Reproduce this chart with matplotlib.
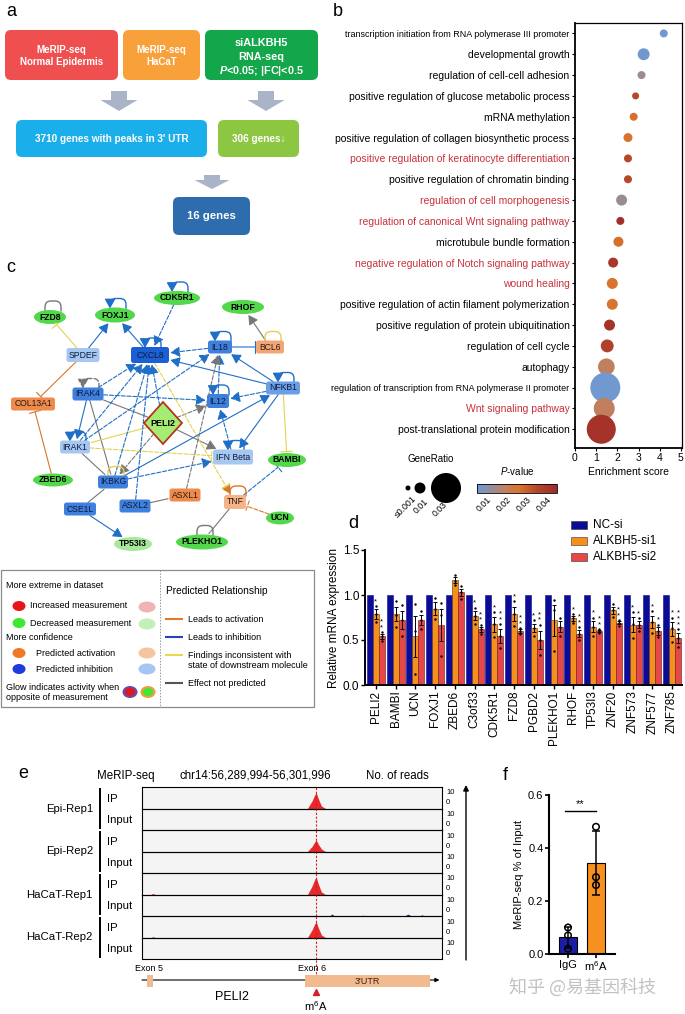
import numpy as np
import matplotlib
matplotlib.use('Agg')
import matplotlib.pyplot as plt
from matplotlib.patches import FancyBboxPatch, Rectangle, Ellipse, Polygon, FancyArrowPatch, Circle, ArrowStyle
from matplotlib.colors import LinearSegmentedColormap, Normalize
import matplotlib.cm as cm

plt.rcParams['font.family'] = ['Liberation Sans', 'DejaVu Sans', 'Noto Sans CJK SC']
plt.rcParams['mathtext.fontset'] = 'custom'
plt.rcParams['mathtext.rm'] = 'Liberation Sans'
plt.rcParams['mathtext.it'] = 'Liberation Sans:italic'
plt.rcParams['mathtext.bf'] = 'Liberation Sans:bold'
plt.rcParams['mathtext.bfit'] = 'Liberation Sans:italic:bold'

# ---------------- data ----------------
# panel b: GO enrichment
go_terms = ['transcription initiation from RNA polymerase III promoter',
            'developmental growth',
            'regulation of cell-cell adhesion',
            'positive regulation of glucose metabolic process',
            'mRNA methylation',
            'positive regulation of collagen biosynthetic process',
            'positive regulation of keratinocyte differentiation',
            'positive regulation of chromatin binding',
            'regulation of cell morphogenesis',
            'regulation of canonical Wnt signaling pathway',
            'microtubule bundle formation',
            'negative regulation of Notch signaling pathway',
            'wound healing',
            'positive regulation of actin filament polymerization',
            'positive regulation of protein ubiquitination',
            'regulation of cell cycle',
            'autophagy',
            'regulation of transcription from RNA polymerase II promoter',
            'Wnt signaling pathway',
            'post-translational protein modification']
go_score = [4.19, 3.24, 3.14, 2.86, 2.77, 2.5, 2.5, 2.5, 2.2, 2.14,
            2.05, 1.8, 1.76, 1.76, 1.63, 1.52, 1.48, 1.43, 1.38, 1.24]
go_ratio = [0.0055, 0.011, 0.0055, 0.004, 0.0055, 0.007, 0.0055, 0.0055, 0.010, 0.0055,
            0.0085, 0.0085, 0.010, 0.010, 0.010, 0.012, 0.016, 0.031, 0.0205, 0.029]
go_pval = [0.006, 0.006, 0.014, 0.035, 0.027, 0.026, 0.035, 0.035, 0.013, 0.043,
           0.027, 0.040, 0.026, 0.026, 0.042, 0.037, 0.019, 0.006, 0.019, 0.042]
go_highlight = [6, 8, 9, 11, 12, 18]
ratio_legend = [0.001, 0.01, 0.03]
ratio_labels = ['\u22640.001', '0.01', '0.03']

# panel d: qPCR
genes_d = ['PELI2', 'BAMBI', 'UCN', 'FOXJ1', 'ZBED6', 'C3of33', 'CDK5R1', 'FZD8',
           'PGBD2', 'PLEKHO1', 'RHOF', 'TP53I3', 'ZNF20', 'ZNF573', 'ZNF577', 'ZNF785']
nc_si = [1.0] * 16
si1_reps = [[0.70, 0.79, 0.88], [0.65, 0.78, 0.93], [0.12, 0.60, 0.90], [0.73, 0.85, 0.97],
            [1.11, 1.16, 1.22], [0.68, 0.77, 0.86], [0.53, 0.68, 0.81], [0.66, 0.79, 0.93],
            [0.55, 0.63, 0.72], [0.38, 0.83, 0.95], [0.69, 0.74, 0.79], [0.55, 0.65, 0.75],
            [0.76, 0.83, 0.90], [0.52, 0.68, 0.81], [0.58, 0.70, 0.82], [0.48, 0.63, 0.75]]
si2_reps = [[0.49, 0.54, 0.59], [0.55, 0.72, 0.89], [0.62, 0.72, 0.82], [0.32, 0.78, 0.91],
            [0.96, 1.03, 1.10], [0.57, 0.62, 0.67], [0.41, 0.54, 0.68], [0.57, 0.60, 0.63],
            [0.33, 0.50, 0.67], [0.55, 0.65, 0.75], [0.50, 0.57, 0.64], [0.58, 0.60, 0.62],
            [0.66, 0.69, 0.72], [0.60, 0.67, 0.74], [0.53, 0.60, 0.67], [0.42, 0.52, 0.62]]
si1_sig = ['*', '', '', '', '', '*', '*', '*', '*', '', '*', '*', '', '*', '*', '*']
si2_sig = ['**', '', '', '', '', '**', '**', '**', '**', '', '**', '**', '**', '*', '*', '***']

# panel e: MeRIP-seq coverage (kb from chr14:56,289,994)
region_kb = 12.002
m6a_kb = 6.96
cov_kb = [0, 0.35, 0.44, 0.53, 6.62, 6.80, 6.92, 6.97, 7.05, 7.18, 7.34, 7.5, 7.6, 7.7,
          8.75, 8.84, 8.93, 10.5, 10.64, 10.78, 11.1, 11.2, 11.3, 12.0]
reps_e = ['Epi-Rep1', 'Epi-Rep2', 'HaCaT-Rep1', 'HaCaT-Rep2']
ip_cov = {
    'Epi-Rep1':   [0, 0, 0, 0, 0, 4.5, 8.5, 9.5, 6.0, 1.5, 0, 0, 0, 0, 0, 0, 0, 0, 0, 0, 0, 0, 0, 0],
    'Epi-Rep2':   [0, 0, 0, 0, 0, 3.0, 6.0, 7.0, 4.5, 1.5, 0, 0, 0, 0, 0, 0, 0, 0, 0, 0, 0, 0, 0, 0],
    'HaCaT-Rep1': [0, 0, 0.6, 0, 0, 5.0, 9.5, 10.5, 6.5, 1.5, 0, 0, 0, 0, 0, 0, 0, 0, 0, 0, 0, 0, 0, 0],
    'HaCaT-Rep2': [0, 0, 0.5, 0, 0, 4.5, 8.5, 9.5, 6.0, 1.5, 0, 0, 0, 0, 0, 0, 0, 0, 0, 0, 0, 0, 0, 0],
}
input_cov = {
    'Epi-Rep1':   [0] * 24,
    'Epi-Rep2':   [0] * 24,
    'HaCaT-Rep1': [0, 0, 0, 0, 0, 0, 0, 0, 0, 0, 0, 0, 1.2, 0, 0, 0.5, 0, 0, 1.1, 0, 0, 0.7, 0, 0],
    'HaCaT-Rep2': [0, 0, 0, 0, 0, 0, 0, 0, 0.4, 0, 0, 0, 0, 0, 0, 0, 0, 0, 0, 0, 0, 0, 0, 0],
}
exon5_kb = (0.20, 0.44)
exon6_kb = (6.52, 11.52)

# panel f: MeRIP-qPCR
f_groups = ['IgG', 'm$^6$A']
f_reps = [[0.10, 0.07, 0.02], [0.48, 0.29, 0.26]]

# ---------------- figure ----------------
W, H = 685, 1014
fig = plt.figure(figsize=(W / 100, H / 100), dpi=100)
bg = fig.add_axes([0, 0, 1, 1])
bg.set_xlim(0, W)
bg.set_ylim(H, 0)
bg.axis('off')


def px_axes(l, t, r, b):
    ax = fig.add_axes([l / W, 1 - b / H, (r - l) / W, (b - t) / H])
    ax.patch.set_visible(False)
    return ax


def panel_label(x, y, s):
    bg.text(x, y, s, fontsize=13, ha='left', va='center')


# ---------------- panel a ----------------
panel_label(6, 12, 'a')


def rbox(x0, y0, x1, y1, fc, r=6):
    bg.add_patch(FancyBboxPatch((x0, y0), x1 - x0, y1 - y0,
                                boxstyle="round,pad=0,rounding_size=%g" % r, fc=fc, ec='none'))


def down_arrow(cx, top, bot, shaft=16, head=37, hl=11):
    pts = [(cx - shaft / 2, top), (cx + shaft / 2, top), (cx + shaft / 2, bot - hl),
           (cx + head / 2, bot - hl), (cx, bot), (cx - head / 2, bot - hl), (cx - shaft / 2, bot - hl)]
    bg.add_patch(Polygon(pts, closed=True, fc='#a9b4c8', ec='none'))


wtxt = dict(color='white', fontweight='bold', ha='center', va='center')
rbox(5, 30, 118, 80, '#f04f50')
bg.text(61.5, 56, 'MeRIP-seq\nNormal Epidermis', fontsize=7, linespacing=1.3, **wtxt)
rbox(123, 30, 200, 80, '#f8a03a')
bg.text(161.5, 56, 'MeRIP-seq\nHaCaT', fontsize=7, linespacing=1.3, **wtxt)
rbox(205, 30, 318, 80, '#13a64a')
bg.text(261.5, 43, 'siALKBH5', fontsize=7.8, **wtxt)
bg.text(261.5, 57, 'RNA-seq', fontsize=7.8, **wtxt)
bg.text(261.5, 71, r'$\mathbfit{P}$<0.05; |FC|<0.5', fontsize=7.8, **wtxt)
down_arrow(119, 91, 111)
down_arrow(266, 91, 111)
rbox(16, 120, 207, 157, '#1aaeea')
bg.text(111.5, 139, "3710 genes with peaks in 3' UTR", fontsize=7.2, **wtxt)
rbox(218, 120, 299, 157, '#8dc641')
bg.text(258.5, 139, '306 genes\u2193', fontsize=7.2, **wtxt)
down_arrow(212, 175, 189, head=35, hl=9)
rbox(173, 197, 250, 235, '#2e6dad')
bg.text(211.5, 216, '16 genes', fontsize=8.2, **wtxt)

# ---------------- panel b ----------------
panel_label(333, 12, 'b')
pcmap = LinearSegmentedColormap.from_list(
    'pv', [(0, '#6b9bd8'), (0.2, '#9a8c93'), (0.35, '#c08060'), (0.52, '#d8752f'),
           (0.75, '#b5472a'), (1, '#9e2a2a')])
pnorm = Normalize(0.005, 0.045)


def diam(r):
    return np.interp(r, [0.001, 0.01, 0.03], [5, 11, 30])


axb = px_axes(575, 23, 682, 448)
yy = np.arange(len(go_terms))
axb.scatter(go_score, yy, s=(diam(np.array(go_ratio)) * 0.72) ** 2, c=go_pval,
            cmap=pcmap, norm=pnorm, edgecolors='none', zorder=3)
axb.set_xlim(0, 5.05)
axb.set_ylim(19.9, -0.5)
axb.set_yticks(yy)
axb.set_yticklabels(go_terms, fontsize=7.5)
for i, t in enumerate(axb.get_yticklabels()):
    if i in go_highlight:
        t.set_color('#c8323c')
    if i in (0, 17):
        t.set_fontsize(6.5)
axb.set_xticks(range(6))
axb.tick_params(axis='x', labelsize=7.5, length=2.5, width=0.8, pad=1)
axb.tick_params(axis='y', length=2, width=0.8, pad=2)
axb.set_xlabel('Enrichment score', fontsize=7.5, labelpad=3)
for s in ['left', 'bottom']:
    axb.spines[s].set_linewidth(1.3)
for s in ['top', 'right']:
    axb.spines[s].set_linewidth(0.9)

bg.text(431, 459, 'GeneRatio', fontsize=7, ha='center', va='center')
for r, x in zip(ratio_legend, [408, 420, 446]):
    bg.add_patch(Circle((x, 488), diam(r) / 2, fc='black', ec='none'))
bg.text(412, 494, ratio_labels[0], fontsize=6.3, rotation=45, ha='right', va='top', rotation_mode='anchor')
bg.text(424, 497, ratio_labels[1], fontsize=6.3, rotation=45, ha='right', va='top', rotation_mode='anchor')
bg.text(443, 500, ratio_labels[2], fontsize=6.3, rotation=45, ha='right', va='top', rotation_mode='anchor')
bg.text(517, 471, r'$\it{P}$-value', fontsize=7, ha='center', va='center')
axc = px_axes(477, 484, 557, 493)
cb = fig.colorbar(cm.ScalarMappable(norm=pnorm, cmap=pcmap), cax=axc, orientation='horizontal')
cb.set_ticks([0.01, 0.02, 0.03, 0.04])
cb.ax.tick_params(labelsize=6.3, length=0, pad=1.5)
plt.setp(cb.ax.get_xticklabels(), rotation=45, ha='right', rotation_mode='anchor')
cb.outline.set_linewidth(0.6)

# ---------------- panel c (network) ----------------
panel_label(6, 268, 'c')
GREEN, LGREEN = '#52d84a', '#a6e89c'
DBLUE, MBLUE, NBLUE, LBLUE = '#1c5fd4', '#3f80dc', '#6a9fe6', '#a6c7f0'
ORANGE, LORANGE, TNFC = '#ee8a4c', '#f2a676', '#f4b487'
nodes = {
    'FZD8': (50, 317, 'ell', 32, 14, GREEN),
    'FOXJ1': (115, 315, 'ell', 40, 15, GREEN),
    'CDK5R1': (177, 298, 'ell', 46, 14, GREEN),
    'RHOF': (243, 307, 'ell', 42, 14, GREEN),
    'SPDEF': (83, 355, 'box', 33, 14, LBLUE),
    'CXCL8': (150, 355, 'box', 38, 16, DBLUE),
    'IL18': (220, 347, 'box', 24, 13, MBLUE),
    'BCL6': (270, 347, 'box', 28, 13, LORANGE),
    'IRAK4': (88, 394, 'box', 31, 13, MBLUE),
    'COL13A1': (33, 404, 'box', 44, 13, ORANGE),
    'IL12': (218, 401, 'box', 22, 14, MBLUE),
    'NFKB1': (283, 388, 'box', 34, 13, NBLUE),
    'PELI2': (163, 423, 'dia', 38, 42, '#a6ec74'),
    'IRAK1': (75, 447, 'box', 30, 13, LBLUE),
    'IFN Beta': (233, 457, 'box', 40, 15, LBLUE),
    'BAMBI': (287, 460, 'ell', 38, 14, GREEN),
    'ZBED6': (53, 480, 'ell', 40, 13, GREEN),
    'IKBKG': (113, 482, 'box', 30, 13, MBLUE),
    'ASXL1': (185, 495, 'box', 31, 13, ORANGE),
    'TNF': (235, 502, 'box', 22, 14, TNFC),
    'ASXL2': (135, 506, 'box', 31, 13, MBLUE),
    'CSE1L': (80, 509, 'box', 32, 13, MBLUE),
    'UCN': (280, 518, 'ell', 28, 13, GREEN),
    'TP53I3': (133, 544, 'ell', 38, 14, LGREEN),
    'PLEKHO1': (202, 542, 'ell', 52, 15, GREEN),
}
ECOL = {'blue': '#1f6fc8', 'gray': '#777777', 'yellow': '#e3d250', 'orange': '#d9772b'}
edges = [
    ('SPDEF', 'FOXJ1', 'blue', '-', 'act'), ('SPDEF', 'FZD8', 'yellow', '-', 'inh'),
    ('SPDEF', 'COL13A1', 'orange', '-', 'inh'), ('ZBED6', 'COL13A1', 'orange', '-', 'inh'),
    ('CXCL8', 'FOXJ1', 'blue', '-', 'act'), ('CDK5R1', 'CXCL8', 'blue', '--', 'act'),
    ('IL18', 'CXCL8', 'blue', '--', 'act'), ('IL18', 'BCL6', 'blue', '-', 'inh'),
    ('BCL6', 'RHOF', 'gray', '-', 'act'), ('NFKB1', 'CXCL8', 'blue', '-', 'act'),
    ('NFKB1', 'IL18', 'blue', '-', 'act'), ('NFKB1', 'IL12', 'blue', '--', 'act'),
    ('NFKB1', 'IFN Beta', 'blue', '-', 'act'), ('NFKB1', 'BAMBI', 'yellow', '-', 'inh'),
    ('IL12', 'IL18', 'blue', '--', 'act'), ('IFN Beta', 'IL12', 'blue', '--', 'act'),
    ('IRAK4', 'IL12', 'blue', '--', 'act'), ('IRAK4', 'CXCL8', 'blue', '--', 'act'),
    ('IRAK4', 'IRAK1', 'blue', '-', 'act'), ('IRAK4', 'IKBKG', 'gray', '-', 'none'),
    ('IRAK4', 'PELI2', 'gray', '-', 'none'), ('IRAK1', 'CXCL8', 'blue', '--', 'act'),
    ('IRAK1', 'IL18', 'blue', '--', 'act'), ('IRAK1', 'IKBKG', 'gray', '-', 'none'),
    ('IRAK1', 'IFN Beta', 'yellow', '--', 'inh'), ('PELI2', 'IRAK1', 'yellow', '-', 'none'),
    ('PELI2', 'IL12', 'gray', '--', 'act'), ('PELI2', 'IFN Beta', 'gray', '-', 'act'),
    ('PELI2', 'IKBKG', 'gray', '--', 'act'), ('PELI2', 'CXCL8', 'blue', '--', 'act'),
    ('CXCL8', 'TNF', 'yellow', '--', 'act'), ('IKBKG', 'CXCL8', 'blue', '--', 'act'),
    ('IKBKG', 'NFKB1', 'blue', '-', 'act'), ('IKBKG', 'IFN Beta', 'blue', '--', 'act'),
    ('ASXL1', 'IL18', 'gray', '--', 'act'), ('ASXL2', 'CXCL8', 'blue', '--', 'act'),
    ('ASXL2', 'ASXL1', 'gray', '-', 'none'), ('CSE1L', 'IKBKG', 'gray', '-', 'none'),
    ('CSE1L', 'TP53I3', 'blue', '-', 'act'), ('TNF', 'PLEKHO1', 'gray', '-', 'none'),
    ('UCN', 'TNF', 'orange', '--', 'inh'), ('TNF', 'BAMBI', 'blue', '--', 'inh'),
]
loops = [('FZD8', 'gray', '-', False), ('FOXJ1', 'blue', '-', True), ('CDK5R1', 'blue', '-', True),
         ('CXCL8', 'blue', '-', True), ('IL18', 'blue', '-', True), ('IL12', 'blue', '-', True),
         ('NFKB1', 'blue', '-', True), ('IRAK1', 'blue', '-', True), ('IFN Beta', 'blue', '-', True),
         ('BCL6', 'yellow', '-', False), ('IRAK4', 'gray', '--', True), ('IKBKG', 'yellow', '-', False),
         ('TNF', 'orange', '-', False), ('PLEKHO1', 'gray', '-', False)]


def clip(name, tx, ty):
    x, y, shape, w, h, fc = nodes[name]
    dx, dy = tx - x, ty - y
    if shape == 'ell':
        t = 1 / np.sqrt((dx / (w / 2)) ** 2 + (dy / (h / 2)) ** 2)
    elif shape == 'dia':
        t = 1 / (abs(dx) / (w / 2) + abs(dy) / (h / 2))
    else:
        t = min((w / 2) / abs(dx) if dx else 1e9, (h / 2) / abs(dy) if dy else 1e9)
    return x + dx * t, y + dy * t


ACT = ArrowStyle('-|>', head_length=0.8, head_width=0.45)
for a, b, col, ls, kind in edges:
    xa, ya = nodes[a][:2]
    xb, yb = nodes[b][:2]
    pa = clip(a, xb, yb)
    pb = clip(b, xa, ya)
    if kind == 'act':
        st = ACT
    elif kind == 'inh':
        st = ArrowStyle('-[', widthB=0.6, lengthB=0)
    else:
        st = ArrowStyle('-')
    bg.add_patch(FancyArrowPatch(pa, pb, arrowstyle=st, mutation_scale=7, lw=0.8,
                                 color=ECOL[col], ls=ls, shrinkA=0, shrinkB=1, zorder=2))
    if (a, b) == ('CXCL8', 'TNF'):
        bg.add_patch(FancyArrowPatch(pa, pb, arrowstyle=ACT, mutation_scale=7, lw=0,
                                     color=ECOL['orange'], shrinkA=0, shrinkB=1, zorder=2))

for name, col, ls, head in loops:
    x, y, shape, w, h, fc = nodes[name]
    yt = y - h / 2 + 1
    st = ACT if head else ArrowStyle('-')
    bg.add_patch(FancyArrowPatch((x + 11, yt), (x - 5, yt),
                                 connectionstyle='arc,angleA=90,angleB=90,armA=10,armB=10,rad=6',
                                 arrowstyle=st, mutation_scale=7, color=ECOL[col], lw=1.0, ls=ls,
                                 shrinkA=0, shrinkB=0, zorder=2))

for name, (x, y, shape, w, h, fc) in nodes.items():
    if shape == 'ell':
        bg.add_patch(Ellipse((x, y), w, h, fc=fc, ec='none', zorder=3))
        bg.text(x, y, name, fontsize=6.2, fontweight='bold', ha='center', va='center', zorder=4)
    elif shape == 'dia':
        bg.add_patch(Polygon([(x, y - h / 2), (x + w / 2, y), (x, y + h / 2), (x - w / 2, y)],
                             closed=True, fc=fc, ec='#b5341c', lw=1.3, zorder=3))
        bg.text(x, y, name, fontsize=6.5, fontweight='bold', ha='center', va='center', zorder=4)
    else:
        bg.add_patch(FancyBboxPatch((x - w / 2, y - h / 2), w, h, boxstyle='round,pad=0,rounding_size=2.5',
                                    fc=fc, ec='none', zorder=3))
        tc = '#0b1a40' if fc in (DBLUE, MBLUE, NBLUE, LBLUE) else '#2a1a10'
        bg.text(x, y, name, fontsize=6.2, ha='center', va='center', color=tc, zorder=4)

# legend box of panel c
bg.add_patch(Rectangle((1, 570), 313, 137, fc='white', ec='#8a8a8a', lw=0.9, zorder=1))
bg.plot([160, 160], [570, 707], ls=(0, (1.5, 1.5)), color='#999999', lw=0.7, zorder=1)
lfs = 6.5


def leg_ell(x, y, fc, w=13, h=10):
    bg.add_patch(Ellipse((x, y), w, h, fc=fc, ec='none', zorder=2))


bg.text(6, 585, 'More extreme in dataset', fontsize=lfs, va='center')
leg_ell(19, 606, '#e8141c'); bg.text(30, 606, 'Increased measurement', fontsize=lfs, va='center')
leg_ell(147, 607, '#f0b4b4', 17, 11)
leg_ell(19, 623, '#3ee832'); bg.text(30, 623, 'Decreased measurement', fontsize=lfs, va='center')
leg_ell(147, 624, '#c2f0b8', 17, 11)
bg.text(6, 638, 'More confidence', fontsize=lfs, va='center')
leg_ell(19, 653, '#f07828'); bg.text(36, 653, 'Predicted activation', fontsize=lfs, va='center')
leg_ell(147, 653, '#f5c5a0', 17, 11)
leg_ell(19, 669, '#1c3ce0'); bg.text(36, 669, 'Predicted inhibition', fontsize=lfs, va='center')
leg_ell(147, 669, '#a8c4f0', 17, 11)
bg.text(6, 687, 'Glow indicates activity when', fontsize=lfs, va='center')
bg.text(6, 697, 'opposite of measurement', fontsize=lfs, va='center')
leg_ell(130, 692, '#6a4aa8', 15, 12); leg_ell(130, 692, '#e8141c', 10, 8)
leg_ell(148, 692, '#e8a040', 15, 12); leg_ell(148, 692, '#3ee832', 10, 8)
bg.text(166, 591, 'Predicted Relationship', fontsize=7.3, va='center')
for y, col, txt in [(619, '#e07a2a', 'Leads to activation'), (637, '#2840b8', 'Leads to inhibition'),
                    (655, '#e8d84a', 'Findings inconsistent with'), (683, '#555555', 'Effect not predicted')]:
    bg.plot([165, 183], [y, y], color=col, lw=1.5, solid_capstyle='butt')
    bg.text(188, y, txt, fontsize=lfs, va='center')
bg.text(188, 666, 'state of downstream molecule', fontsize=lfs, va='center')

# ---------------- panel d ----------------
panel_label(348, 523, 'd')
axd = px_axes(365, 550, 682, 685)
x = np.arange(len(genes_d))
w = 0.3
si1 = np.array(si1_reps)
si2 = np.array(si2_reps)
m1, m2 = si1.mean(axis=1), si2.mean(axis=1)
e1 = si1.std(axis=1, ddof=1) / np.sqrt(3)
e2 = si2.std(axis=1, ddof=1) / np.sqrt(3)
axd.bar(x - w, nc_si, w, color='#0b0b96', edgecolor='#0b0b96', lw=0.4, zorder=2)
axd.bar(x, m1, w, color='#f5901c', edgecolor='#5a3010', lw=0.4, zorder=2)
axd.bar(x + w, m2, w, color='#e8474a', edgecolor='#5a2020', lw=0.4, zorder=2)
axd.errorbar(x, m1, yerr=e1, fmt='none', ecolor='black', elinewidth=0.7, capsize=1.5, capthick=0.7, zorder=3)
axd.errorbar(x + w, m2, yerr=e2, fmt='none', ecolor='black', elinewidth=0.7, capsize=1.5, capthick=0.7, zorder=3)
for k in range(3):
    axd.scatter(x, si1[:, k], s=3, color='black', zorder=4, linewidths=0)
    axd.scatter(x + w, si2[:, k], s=3, color='black', zorder=4, linewidths=0)
for i in range(len(genes_d)):
    for xo, reps, sig, m, e in [(0, si1[i], si1_sig[i], m1[i], e1[i]), (w, si2[i], si2_sig[i], m2[i], e2[i])]:
        if sig:
            top = max(m + e, reps.max())
            axd.text(i + xo, top + 0.01, '\n'.join(sig), fontsize=5.5, ha='center', va='bottom', linespacing=0.75)
axd.set_xlim(-0.55, 15.5)
axd.set_ylim(0, 1.5)
axd.set_yticks([0, 0.5, 1.0, 1.5])
axd.set_yticklabels(['0.0', '0.5', '1.0', '1.5'])
axd.set_xticks(x)
axd.set_xticklabels(genes_d, rotation=90, fontsize=8.5)
axd.tick_params(axis='y', labelsize=8.5, length=3, width=1, pad=1)
axd.tick_params(axis='x', length=3, width=1, pad=1)
axd.spines['top'].set_visible(False)
axd.spines['right'].set_visible(False)
axd.spines['left'].set_linewidth(1.4)
axd.spines['bottom'].set_linewidth(1.4)
axd.set_ylabel('Relative mRNA expression', fontsize=8.5, labelpad=2)
for y, col, lab in [(525, '#0b0b96', 'NC-si'), (541, '#f5901c', 'ALKBH5-si1'), (557, '#e8474a', 'ALKBH5-si2')]:
    bg.add_patch(Rectangle((571, y - 4), 16, 8, fc=col, ec='#303030', lw=0.4))
    bg.text(593, y, lab, fontsize=8.5, va='center')

# ---------------- panel e ----------------
panel_label(18, 773, 'e')
bg.text(97, 776, 'MeRIP-seq', fontsize=8.3, va='center')
bg.text(180, 776, 'chr14:56,289,994-56,301,996', fontsize=8.3, va='center')
bg.text(366, 776, 'No. of reads', fontsize=8.3, va='center')
top0, th = 787, 21.5
bg.add_patch(Rectangle((142, top0), 300, 8 * th, fc='#f4f4f4', ec='none'))
k = 0
for r, rep in enumerate(reps_e):
    for kind, cov, col in [('IP', ip_cov[rep], '#e8282a'), ('Input', input_cov[rep], '#1a237e')]:
        t = top0 + k * th
        ax = px_axes(142, t, 442, t + th)
        ax.fill_between(cov_kb, cov, color=col, lw=0, zorder=2)
        ax.axvline(m6a_kb, color='#d42020', ls=(0, (2, 1.5)), lw=0.8, zorder=3)
        ax.set_xlim(0, region_kb)
        ax.set_ylim(0, 13)
        ax.set_xticks([])
        ax.set_yticks([])
        for s in ax.spines.values():
            s.set_linewidth(0.8)
        bg.text(446, t + 6, '10', fontsize=5.5, va='center')
        bg.text(446, t + 16, '0', fontsize=5.5, va='center')
        bg.text(107, t + th / 2 + 1, kind, fontsize=8.2, va='center')
        k += 1
    gt = top0 + r * 2 * th
    bg.plot([100, 100], [gt + 2, gt + 2 * th - 2], color='black', lw=1.4)
    bg.text(93, gt + th, rep, fontsize=8.2, ha='right', va='center')
bg.annotate('', xy=(466, 785), xytext=(466, 960),
            arrowprops=dict(arrowstyle='-|>', lw=1, color='black', mutation_scale=8, shrinkA=0, shrinkB=0))

axg = px_axes(142, 960, 442, 1014)
axg.set_xlim(0, region_kb)
axg.set_ylim(1014, 960)
axg.axis('off')
axg.annotate('', xy=(11.9, 980), xytext=(0, 980),
             arrowprops=dict(arrowstyle='-|>', lw=0.8, color='black', mutation_scale=6, shrinkA=0, shrinkB=0))
axg.add_patch(Rectangle((exon5_kb[0], 975), exon5_kb[1] - exon5_kb[0], 12, fc='#f2bb8f', ec='none', zorder=3))
axg.add_patch(Rectangle((exon6_kb[0], 975), exon6_kb[1] - exon6_kb[0], 12, fc='#f2bb8f', ec='none', zorder=3))
axg.plot([m6a_kb, m6a_kb], [960, 975], color='#d42020', ls=(0, (2, 1.5)), lw=0.8)
axg.text(9.0, 981, "3'UTR", fontsize=6.5, ha='center', va='center', zorder=4, color='#402010')
axg.text(0.3, 968, 'Exon 5', fontsize=6.5, ha='center', va='center')
axg.text(6.8, 968, 'Exon 6', fontsize=6.5, ha='center', va='center')
axg.text(3.6, 997, 'PELI2', fontsize=9, ha='center', va='center')
axg.plot([m6a_kb], [992], marker='^', color='#d42020', ms=4.5)
axg.text(m6a_kb, 1006, 'm$^6$A', fontsize=8, ha='center', va='center')

# ---------------- panel f ----------------
panel_label(503, 775, 'f')
axf = px_axes(549, 795, 615, 954)
fm = [np.mean(r) for r in f_reps]
fs = [np.std(r, ddof=1) for r in f_reps]
axf.bar([0, 1], fm, 0.65, color=['#1c1ca8', '#f7901e'], edgecolor='black', lw=0.8, zorder=2)
axf.errorbar([0, 1], fm, yerr=fs, fmt='none', ecolor='black', elinewidth=1.1, capsize=3, capthick=1.1, zorder=3)
for i, reps in enumerate(f_reps):
    axf.scatter([i] * len(reps), reps, s=22, facecolors='none', edgecolors='black', linewidths=1.1, zorder=4)
axf.plot([-0.1, 1.0], [0.54, 0.54], color='black', lw=1)
axf.text(0.45, 0.547, '**', fontsize=8, ha='center', va='bottom')
axf.set_xlim(-0.68, 1.68)
axf.set_ylim(0, 0.6)
axf.set_yticks([0, 0.2, 0.4, 0.6])
axf.set_yticklabels(['0.0', '0.2', '0.4', '0.6'])
axf.set_xticks([0, 1])
axf.set_xticklabels(f_groups)
axf.tick_params(labelsize=8, length=3, width=1.2, pad=1)
axf.spines['top'].set_visible(False)
axf.spines['right'].set_visible(False)
axf.spines['left'].set_linewidth(1.5)
axf.spines['bottom'].set_linewidth(1.5)
axf.set_ylabel('MeRIP-seq % of Input', fontsize=8, labelpad=3)
bg.text(583, 987, '知乎 @易基因科技', fontsize=13, color='#b8b8b8', alpha=0.85,
        family=['Noto Sans CJK SC'], ha='center', va='center', zorder=10)

fig.savefig('out.png', dpi=100)
